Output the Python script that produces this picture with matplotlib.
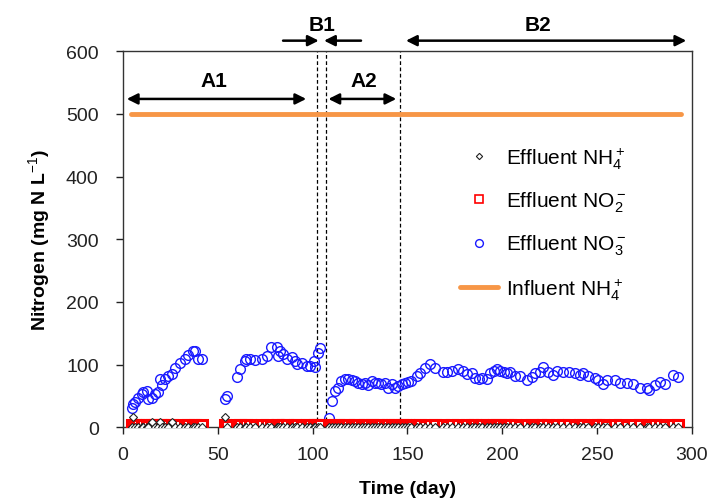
import numpy as np
import matplotlib
matplotlib.use("Agg")
import matplotlib.pyplot as plt

plt.rcParams['font.family'] = ['Liberation Sans', 'DejaVu Sans']
plt.rcParams['mathtext.fontset'] = 'custom'
plt.rcParams['mathtext.rm'] = 'Liberation Sans'
plt.rcParams['mathtext.it'] = 'Liberation Sans:italic'
plt.rcParams['mathtext.bf'] = 'Liberation Sans:bold'

# -----------------------------
# Data
# -----------------------------
days = [4.5, 5.4, 6.3, 8.1, 9.8, 10.8, 12.5, 13.4, 15.2, 16.7,
        18.7, 19.7, 20.6, 22.3, 23.9, 25.6, 27.5, 30.0, 32.5, 34.4,
        37.1, 38.0, 39.8, 41.5, 53.7, 54.6, 59.9, 61.7, 64.4, 65.1,
        66.9, 69.6, 73.1, 75.8, 78.3, 81.0, 81.9, 83.0, 84.6, 86.4,
        89.1, 90.8, 91.7, 94.4, 97.0, 98.8, 100.6, 101.4, 102.9, 103.8,
        108.7, 110.0, 111.8, 113.6, 115.2, 117.0, 118.8, 120.5, 122.3, 124.0,
        125.8, 127.5, 129.3, 131.1, 132.8, 134.6, 136.3, 138.1, 139.8, 141.6,
        143.4, 145.1, 146.9, 148.6, 150.4, 152.1, 154.8, 156.6, 159.2, 161.9,
        164.4, 168.9, 170.6, 173.3, 176.8, 179.5, 181.3, 183.9, 185.7, 187.5,
        189.2, 191.9, 193.7, 195.4, 197.2, 199.0, 200.7, 202.5, 204.2, 206.8,
        209.3, 212.8, 215.4, 217.2, 219.8, 221.6, 224.2, 226.8, 228.9, 232.1,
        235.3, 238.3, 240.9, 242.7, 245.3, 248.8, 250.6, 253.2, 255.3, 259.4,
        262.0, 265.5, 269.0, 272.5, 276.1, 277.4, 280.4, 283.1, 285.7, 290.1,
        292.7]

no3 = [31, 37, 40, 47, 53, 56, 58, 45, 47, 53,
       56, 77, 67, 77, 82, 85, 95, 103, 109, 115,
       122, 122, 109, 109, 45, 50, 81, 93, 106, 109,
       109, 107, 109, 114, 128, 128, 114, 122, 117, 109,
       112, 106, 101, 103, 98, 98, 106, 96, 119, 127,
       15, 42, 58, 63, 74, 77, 77, 76, 74, 71,
       69, 70, 67, 74, 71, 71, 69, 71, 63, 69,
       63, 66, 69, 71, 72, 74, 82, 86, 95, 101,
       95, 88, 88, 90, 93, 90, 85, 86, 79, 77,
       79, 77, 86, 90, 93, 90, 88, 87, 88, 82,
       82, 76, 81, 87, 88, 96, 88, 83, 90, 88,
       88, 86, 83, 87, 82, 78, 76, 69, 76, 76,
       71, 71, 69, 62, 63, 60, 67, 73, 69, 83,
       81]

no2 = [3, 2, 4, 3, 2, 3, 4, 2, 3, 3,
       2, 4, 3, 2, 3, 4, 2, 3, 2, 3,
       4, 3, 2, 3, 3, 2, 4, 3, 2, 3,
       3, 2, 4, 3, 2, 3, 3, 2, 3, 4,
       2, 3, 3, 2, 4, 3, 2, 3, 4, 3,
       3, 2, 3, 3, 2, 3, 4, 2, 3, 3,
       2, 3, 4, 3, 2, 3, 3, 2, 3, 4,
       3, 2, 3, 3, 4, 2, 3, 3, 2, 3,
       3, 4, 2, 3, 3, 2, 3, 4, 3, 2,
       3, 3, 2, 4, 3, 3, 2, 3, 3, 4,
       2, 3, 3, 2, 3, 4, 3, 2, 3, 3,
       4, 2, 3, 3, 2, 3, 3, 4, 2, 3,
       3, 2, 3, 4, 3, 2, 3, 3, 2, 3,
       3]

nh4 = [1, 17, 1, 0, 1, 0, 1, 0, 8, 1,
       0, 8, 1, 0, 1, 8, 0, 1, 0, 1,
       0, 1, 0, 1, 17, 1, 0, 1, 0, 1,
       1, 0, 1, 0, 1, 0, 1, 0, 1, 0,
       1, 0, 1, 0, 1, 0, 1, 0, 1, 0,
       1, 0, 1, 0, 1, 0, 1, 0, 1, 0,
       1, 0, 1, 0, 1, 0, 1, 0, 1, 0,
       1, 0, 1, 0, 1, 0, 1, 0, 1, 0,
       1, 0, 1, 0, 1, 0, 1, 0, 1, 0,
       1, 0, 1, 0, 1, 0, 1, 0, 1, 0,
       1, 0, 1, 0, 1, 0, 1, 0, 1, 0,
       1, 0, 1, 0, 1, 0, 1, 0, 1, 0,
       1, 0, 1, 0, 1, 0, 1, 0, 1, 0,
       1]

influent_days = [4, 294]
influent_nh4 = [500, 500]

phase_bounds = [102.5, 107.3, 145.8]

# -----------------------------
# Figure
# -----------------------------
fig = plt.figure(figsize=(7.13, 5.02), dpi=100)
ax = fig.add_axes([0.1725, 0.1468, 0.798, 0.749])

ax.plot(days, no3, linestyle='none', marker='o', markersize=7,
        markerfacecolor='none', markeredgecolor='#1a1aff', markeredgewidth=1,
        label='Effluent NO$_3^-$', zorder=3)
ax.plot(days, no2, linestyle='none', marker='s', markersize=7,
        markerfacecolor='white', markeredgecolor='#ff0000', markeredgewidth=2.2,
        label='Effluent NO$_2^-$', zorder=4)
ax.plot(days, nh4, linestyle='none', marker='D', markersize=4,
        markerfacecolor='white', markeredgecolor='#222222', markeredgewidth=0.8,
        label='Effluent NH$_4^+$', zorder=5)
ax.plot(influent_days, influent_nh4, color='#f79646', lw=3.5,
        solid_capstyle='round', label='Influent NH$_4^+$', zorder=2)

for xb in phase_bounds:
    ax.axvline(xb, color='black', lw=0.9, linestyle=(0, (3, 2)), zorder=1)

ax.set_xlim(0, 300)
ax.set_ylim(0, 600)
ax.set_xticks(np.arange(0, 301, 50))
ax.set_yticks(np.arange(0, 601, 100))
ax.tick_params(direction='out', length=5, width=1, labelsize=14, colors='#222222')
ax.tick_params(axis='x', pad=8.5)
ax.tick_params(axis='y', pad=12.5)
for s in ax.spines.values():
    s.set_color('#333333')
    s.set_linewidth(1)

ax.set_xlabel('Time (day)', fontsize=14, fontweight='bold', labelpad=12)
ax.set_ylabel('Nitrogen (mg N L$^{-1}$)', fontsize=14, fontweight='bold', labelpad=10)

# phase arrows and labels
arw = dict(arrowstyle='<|-|>', color='black', lw=1.8, mutation_scale=16,
           shrinkA=0, shrinkB=0)
one = dict(arrowstyle='-|>', color='black', lw=1.8, mutation_scale=16,
           shrinkA=0, shrinkB=0)
ax.annotate('', xy=(2, 524), xytext=(96.6, 524), arrowprops=arw)
ax.annotate('', xy=(108.3, 524), xytext=(144.1, 524), arrowprops=arw)
ax.annotate('', xy=(149.2, 617), xytext=(297, 617), arrowprops=arw, annotation_clip=False)
ax.annotate('', xy=(103.2, 617), xytext=(84.4, 617), arrowprops=one, annotation_clip=False)
ax.annotate('', xy=(106, 617), xytext=(125.5, 617), arrowprops=one, annotation_clip=False)

lab = dict(fontsize=15, fontweight='bold', ha='center', va='center')
ax.text(48, 553, 'A1', **lab)
ax.text(127, 553, 'A2', **lab)
ax.text(104.7, 642, 'B1', clip_on=False, **lab)
ax.text(219, 642, 'B2', clip_on=False, **lab)

h, l = ax.get_legend_handles_labels()
order = [2, 1, 0, 3]
leg = ax.legend([h[i] for i in order], [l[i] for i in order], loc='upper left',
                bbox_to_anchor=(0.56, 0.8), frameon=False, fontsize=15,
                labelspacing=0.9, handlelength=1.8, handletextpad=0.4, markerscale=0.8)
leg.legend_handles[1].set_markeredgewidth(1.2)

fig.savefig('out.png', dpi=100)
